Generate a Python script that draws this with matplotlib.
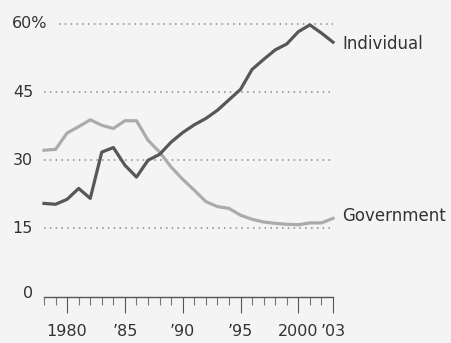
import numpy as np
import matplotlib
matplotlib.use("Agg")
import matplotlib.pyplot as plt
from matplotlib.ticker import FixedLocator, MultipleLocator

plt.rcParams['font.family'] = ['DejaVu Sans']

#
## DATA (share of total, %)
years = list(range(1978, 2004))
individual = [20.5, 20.3, 21.4, 23.8, 21.6, 31.8, 32.8, 28.9, 26.3, 30.0, 31.3, 34.0,
              36.1, 37.8, 39.2, 41.0, 43.3, 45.6, 50.0, 52.2, 54.3, 55.6, 58.3, 59.8, 58.0, 56.0]
government = [32.2, 32.4, 36.0, 37.4, 38.9, 37.7, 37.0, 38.7, 38.7, 34.4, 31.8, 28.5,
              25.8, 23.4, 20.9, 19.8, 19.4, 17.9, 17.0, 16.4, 16.1, 15.9, 15.8, 16.2, 16.2, 17.2]
ytick_vals = [15, 30, 45, 60]
ytick_labels = ['15', '30', '45', '60%']
xtick_vals = [1980, 1985, 1990, 1995, 2000, 2003]
xtick_labels = ['1980', '\u201985', '\u201990', '\u201995', '2000', '\u201903']

bg = '#f4f4f4'
txt = '#333333'
dark = '#575757'
light = '#ababab'
FS = 11.5

fig = plt.figure(figsize=(4.52, 3.43), dpi=100, facecolor=bg)
W, H = 452.0, 343.0
Y0, Y60 = 296.5, 24.0   # pixel rows (from top) of 0 and 60
ax = fig.add_axes([44 / W, 1 - Y0 / H, (333 - 44) / W, (Y0 - Y60) / H])
ax.set_facecolor(bg)
ax.set_xlim(1978, 2003)
ax.set_ylim(0, 60)

def fy(py):
    # pixel row from top -> figure fraction
    return 1 - py / H

def ypix(v):
    return Y0 - v / 60 * (Y0 - Y60)

#
## DOTTED GRIDLINES
for v in ytick_vals:
    x0 = 1978 + (59 - 44) / (333 - 44) * 25 if v == 60 else 1978
    ax.plot([x0, 2003], [v, v], color='#888888', lw=1.1, ls=(0, (1.0, 2.8)),
            clip_on=False, zorder=1)

#
## THE TWO LINES
ax.plot(years, government, color=light, lw=2.3, solid_joinstyle='round', clip_on=False, zorder=3)
ax.plot(years, individual, color=dark, lw=2.3, solid_joinstyle='round', clip_on=False, zorder=4)

fig.text(342 / W, fy(44), 'Individual', fontsize=12, color=txt, va='center', ha='left')
fig.text(342 / W, fy(216), 'Government', fontsize=12, color=txt, va='center', ha='left')

#
## AXES
for s in ['top', 'right', 'left']:
    ax.spines[s].set_visible(False)
ax.spines['bottom'].set_color('#555555')
ax.spines['bottom'].set_linewidth(1.0)
ax.set_yticks([])
ax.xaxis.set_major_locator(FixedLocator(xtick_vals))
ax.set_xticklabels(xtick_labels)
ax.xaxis.set_minor_locator(MultipleLocator(1))
ax.tick_params(axis='x', which='major', length=11.5, width=0.8, color='#555555',
               labelsize=FS, labelcolor=txt, pad=8)
ax.tick_params(axis='x', which='minor', length=5.5, width=0.8, color='#777777')

for v, lab in zip(ytick_vals, ytick_labels):
    if lab.endswith('%'):
        fig.text(12 / W, fy(ypix(v)), lab, fontsize=FS, color=txt, ha='left', va='center')
    else:
        fig.text(33 / W, fy(ypix(v)), lab, fontsize=FS, color=txt, ha='right', va='center')
fig.text(33 / W, fy(293), '0', fontsize=FS, color=txt, ha='right', va='center')

fig.savefig('out.png', dpi=100, facecolor=bg)
